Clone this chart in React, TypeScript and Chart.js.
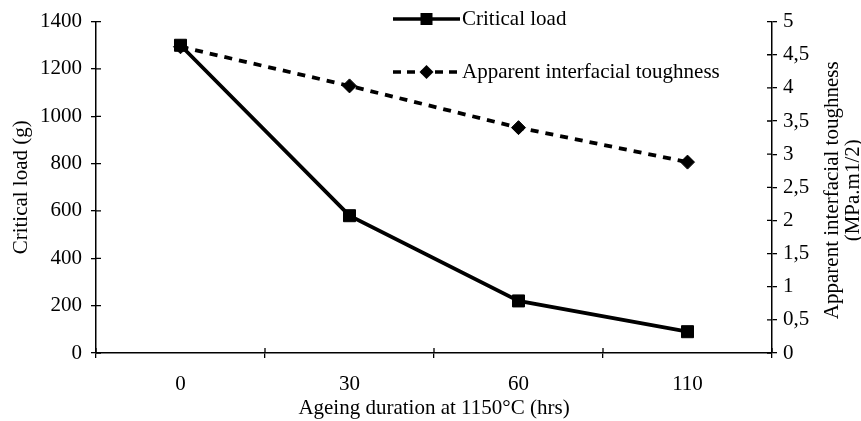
import { useEffect, useRef } from 'react';
import { Chart, registerables } from 'chart.js';

Chart.register(...registerables);

const categories = ['0', '30', '60', '110'];
const criticalLoad = [1300, 580, 220, 90];
const toughness = [4.62, 4.03, 3.4, 2.88];
const loadLabel = 'Critical load';
const toughnessLabel = 'Apparent interfacial toughness';
const xTitle = 'Ageing duration at 1150°C (hrs)';
const leftTitle = 'Critical load (g)';
const rightTitle = ['Apparent interfacial toughness', '(MPa.m1/2)'];

const FONT = "'Liberation Serif', 'Times New Roman', serif";
const FS = 21;

const innerTicks = {
  id: 'innerTicks',
  afterDraw(chart: any) {
    const ctx = chart.ctx;
    const { x, y, y1 } = chart.scales;
    ctx.save();
    ctx.strokeStyle = '#000';
    ctx.lineWidth = 1.3;
    ctx.beginPath();
    for (let v = -0.5; v <= categories.length - 0.5; v += 1) {
      const px = x.getPixelForValue(v);
      ctx.moveTo(px, x.top);
      ctx.lineTo(px, x.top - 5);
    }
    y.ticks.forEach((t: any) => {
      const py = y.getPixelForValue(t.value);
      ctx.moveTo(y.right, py);
      ctx.lineTo(y.right + 5, py);
    });
    y1.ticks.forEach((t: any) => {
      const py = y1.getPixelForValue(t.value);
      ctx.moveTo(y1.left, py);
      ctx.lineTo(y1.left - 5, py);
    });
    ctx.stroke();
    ctx.restore();
  },
};

const customLegend = {
  id: 'customLegend',
  afterDraw(chart: any) {
    const ctx = chart.ctx;
    const ds = chart.data.datasets;
    const rows = [
      { y: 19, dash: [] as number[], style: 'rect', radius: 8 },
      { y: 72, dash: [8, 6], style: 'rectRot', radius: 7 },
    ];
    ctx.save();
    rows.forEach((r, i) => {
      const x0 = 393;
      const x1 = 460;
      ctx.strokeStyle = '#000';
      ctx.lineWidth = 3.5;
      ctx.setLineDash(r.dash);
      ctx.beginPath();
      ctx.moveTo(x0, r.y);
      ctx.lineTo(x1, r.y);
      ctx.stroke();
      ctx.setLineDash([]);
      ctx.fillStyle = '#000';
      const cx = (x0 + x1) / 2;
      ctx.beginPath();
      if (r.style === 'rect') {
        ctx.rect(cx - 6, r.y - 6, 12, 12);
      } else {
        ctx.moveTo(cx, r.y - r.radius);
        ctx.lineTo(cx + r.radius, r.y);
        ctx.lineTo(cx, r.y + r.radius);
        ctx.lineTo(cx - r.radius, r.y);
        ctx.closePath();
      }
      ctx.fill();
      ctx.font = `${FS}px ${FONT}`;
      ctx.textBaseline = 'middle';
      ctx.textAlign = 'left';
      ctx.fillText(ds[i].label, x1 + 2, r.y);
    });
    ctx.restore();
  },
};

const rightTitlePlugin = {
  id: 'rightTitle',
  afterDraw(chart: any) {
    const ctx = chart.ctx;
    const area = chart.chartArea;
    const cy = (area.top + area.bottom) / 2 + 3;
    ctx.save();
    ctx.fillStyle = '#000';
    ctx.font = `${FS}px ${FONT}`;
    ctx.textAlign = 'center';
    ctx.textBaseline = 'middle';
    const xs = [832, 853];
    rightTitle.forEach((t, i) => {
      ctx.save();
      ctx.translate(xs[i], cy);
      ctx.rotate(-Math.PI / 2);
      ctx.fillText(t, 0, 0);
      ctx.restore();
    });
    ctx.restore();
  },
};

export default function App() {
  const ref = useRef<HTMLCanvasElement>(null);
  useEffect(() => {
    if (!ref.current) return;
    Chart.defaults.font.family = FONT;
    Chart.defaults.font.size = FS;
    Chart.defaults.color = '#000';
    const chart = new Chart(ref.current, {
      type: 'line',
      data: {
        labels: categories,
        datasets: [
          {
            label: loadLabel,
            data: criticalLoad,
            yAxisID: 'y',
            borderColor: '#000',
            backgroundColor: '#000',
            borderWidth: 3.8,
            pointStyle: 'rect',
            pointRadius: 8.5,
            pointBorderWidth: 1,
            tension: 0,
          },
          {
            label: toughnessLabel,
            data: toughness,
            yAxisID: 'y1',
            borderColor: '#000',
            backgroundColor: '#000',
            borderWidth: 3.8,
            borderDash: [8, 7],
            pointStyle: 'rectRot',
            pointRadius: 7,
            pointBorderWidth: 1,
            tension: 0,
          },
        ],
      },
      options: {
        animation: false,
        responsive: false,
        maintainAspectRatio: false,
        layout: { padding: { top: 20, left: 0, right: 0, bottom: 0 } },
        plugins: {
          legend: { display: false },
          tooltip: { enabled: false },
        },
        scales: {
          x: {
            type: 'category',
            offset: true,
            grid: {
              offset: true,
              drawOnChartArea: false,
              drawTicks: true,
              tickLength: 5,
              color: '#000',
              lineWidth: 1.3,
            },
            border: { display: true, color: '#000', width: 1.5 },
            ticks: { padding: 14, color: '#000', font: { size: FS, family: FONT } },
            title: {
              display: true,
              text: xTitle,
              color: '#000',
              font: { size: FS, family: FONT },
              padding: { top: 0, bottom: 0 },
            },
            afterFit: (s: any) => {
              s.height = 68;
            },
          },
          y: {
            type: 'linear',
            position: 'left',
            min: 0,
            max: 1400,
            ticks: {
              stepSize: 200,
              padding: 9,
              color: '#000',
              font: { size: FS, family: FONT },
              callback: (v: any) => String(v),
            },
            grid: {
              drawOnChartArea: false,
              drawTicks: true,
              tickLength: 5,
              color: '#000',
              lineWidth: 1.3,
            },
            border: { display: true, color: '#000', width: 1.5 },
            title: {
              display: true,
              text: leftTitle,
              color: '#000',
              font: { size: FS, family: FONT },
              padding: { top: 9, bottom: 0 },
            },
            afterFit: (s: any) => {
              s.width = 96;
            },
          },
          y1: {
            type: 'linear',
            position: 'right',
            min: 0,
            max: 5,
            ticks: {
              stepSize: 0.5,
              padding: 6,
              color: '#000',
              font: { size: FS, family: FONT },
              callback: (v: any) => String(v).replace('.', ','),
            },
            grid: {
              drawOnChartArea: false,
              drawTicks: true,
              tickLength: 5,
              color: '#000',
              lineWidth: 1.3,
            },
            border: { display: true, color: '#000', width: 1.5 },
            afterFit: (s: any) => {
              s.width = 89;
            },
          },
        },
      },
      plugins: [innerTicks, customLegend, rightTitlePlugin],
    });
    return () => chart.destroy();
  }, []);
  return (
    <div style={{ position: 'absolute', left: 0, top: 0, width: 861, height: 421, background: '#fff' }}>
      <canvas ref={ref} width={861} height={421} style={{ display: 'block' }} />
    </div>
  );
}
